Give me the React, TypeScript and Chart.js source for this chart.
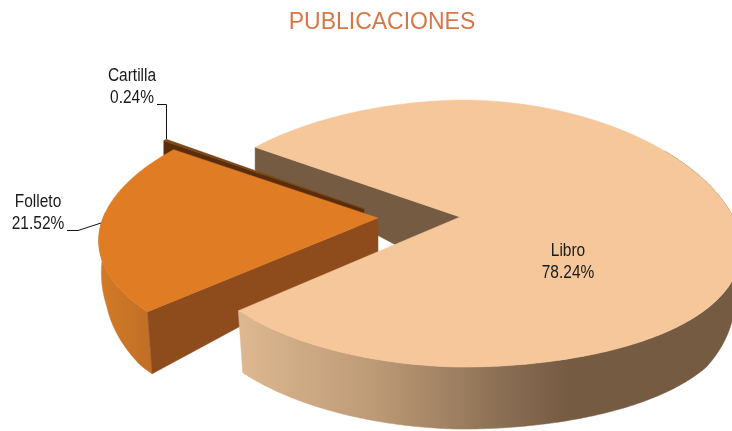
import React, { useEffect, useRef } from "react";
import { Chart, registerables } from "chart.js";

Chart.register(...registerables);

const categories = ["Libro", "Folleto", "Cartilla"];
const percentages = [78.24, 21.52, 0.24];
const percentLabels = ["78.24%", "21.52%", "0.24%"];
const titleText = "PUBLICACIONES";

const topColors = ["#F5C79B", "#E07D24", "#7D4514"];
const cutColors = ["#755B42", "#8E4C1C", "#5A2D0A"];
const apexes = [
  { x: 460, y: 217 },
  { x: 378, y: 218 },
  { x: 364, y: 209 },
];
const apexDepths = [62, 34, 20];
const leftPerspective = [0.133, 0.175, 0.2];
const sliceRadii = [273, 275, 273];
const labelAnchors = [
  { x: 568, y: 251 },
  { x: 38, y: 202 },
  { x: 132, y: 76 },
];
const LINE_H = 22;
const ROTATION = 306;
const RY = 131.5;
const K = 0.124;
const RIGHT_PERSPECTIVE = 0.237;
const LEFT_FLATTEN = 0.04;
const SHRINK = 0.02;
const FONT = '17.5px "Liberation Sans", sans-serif';
const NARROW = 0.885;

function depthAt(v: number) {
  return v >= 0 ? Math.min(62, 36 + 42 * v) : 36 + 22 * v;
}
function project(i: number, a: number, z: number) {
  const apex = apexes[i];
  const u = Math.cos(a);
  const v = Math.sin(a);
  const kx = u > 0 ? RIGHT_PERSPECTIVE : leftPerspective[i];
  const flat = 1 - LEFT_FLATTEN * Math.max(0, -u);
  const shrink = SHRINK * Math.min(1, Math.max(0, v) / 0.3);
  return {
    x: apex.x + (u * sliceRadii[i] * (1 - shrink * z)) / (1 - kx * v),
    y: apex.y + ((v * RY) / (1 - K * v)) * flat + z * depthAt(v),
  };
}
function arcPoints(i: number, a0: number, a1: number, z: number) {
  const n = Math.max(2, Math.ceil(Math.abs(a1 - a0) / 0.01));
  const pts = [];
  for (let j = 0; j <= n; j++) pts.push(project(i, a0 + ((a1 - a0) * j) / n, z));
  return pts;
}
function fillPoly(ctx: CanvasRenderingContext2D, pts: { x: number; y: number }[], fill: any) {
  ctx.beginPath();
  pts.forEach((p, i) => (i ? ctx.lineTo(p.x, p.y) : ctx.moveTo(p.x, p.y)));
  ctx.closePath();
  ctx.fillStyle = fill;
  ctx.fill();
  ctx.strokeStyle = fill;
  ctx.lineWidth = 0.5;
  ctx.stroke();
}

const rad = (d: number) => (d * Math.PI) / 180;

const pie3d = {
  id: "pie3d",
  beforeDatasetsDraw(chart: any) {
    const ctx: CanvasRenderingContext2D = chart.ctx;
    const arcs = chart.getDatasetMeta(0).data;
    const drawCut = (i: number) => {
      const a = arcs[i].startAngle;
      const apex = apexes[i];
      fillPoly(ctx, [apex, project(i, a, 0), project(i, a, 1), { x: apex.x, y: apex.y + apexDepths[i] }], cutColors[i]);
    };
    const drawTop = (i: number) => {
      const { startAngle, endAngle } = arcs[i];
      fillPoly(ctx, [apexes[i], ...arcPoints(i, startAngle, endAngle, 0)], topColors[i]);
    };
    const drawSide = (i: number, a0: number, a1: number, fill: any) => {
      fillPoly(ctx, [...arcPoints(i, a0, a1, 0), ...arcPoints(i, a1, a0, 1)], fill);
    };

    drawCut(0);
    drawCut(2);
    drawTop(2);
    const folGrad = ctx.createLinearGradient(100, 0, 152, 0);
    folGrad.addColorStop(0, "#D27A26");
    folGrad.addColorStop(1, "#C06E27");
    drawSide(1, arcs[1].startAngle, arcs[1].startAngle + rad(45), folGrad);
    drawCut(1);
    drawTop(1);
    const libGrad = ctx.createLinearGradient(238, 0, 570, 0);
    libGrad.addColorStop(0, "#DDB890");
    libGrad.addColorStop(0.4, "#BE9B77");
    libGrad.addColorStop(0.85, "#84694F");
    libGrad.addColorStop(1, "#755B42");
    drawSide(0, arcs[0].endAngle, arcs[0].endAngle - rad(170), libGrad);
    drawTop(0);

    ctx.fillStyle = "#1A1A1A";
    ctx.font = FONT;
    ctx.textAlign = "center";
    ctx.textBaseline = "middle";
    categories.forEach((name, i) => {
      const { x, y } = labelAnchors[i];
      ctx.save();
      ctx.translate(x, y);
      ctx.scale(NARROW, 1);
      ctx.fillText(name, 0, 0);
      ctx.fillText(percentLabels[i], 0, LINE_H);
      ctx.restore();
    });
    ctx.strokeStyle = "#111111";
    ctx.lineWidth = 1;
    ctx.beginPath();
    ctx.moveTo(157, 104.5);
    ctx.lineTo(166.5, 104.5);
    ctx.lineTo(166.5, 139);
    ctx.moveTo(67, 230.5);
    ctx.lineTo(78, 230.5);
    ctx.lineTo(101, 223);
    ctx.stroke();
    return false;
  },
};

export default function App() {
  const ref = useRef<HTMLCanvasElement | null>(null);
  useEffect(() => {
    document.body.style.margin = "0";
    const chart = new Chart(ref.current as HTMLCanvasElement, {
      type: "pie",
      data: {
        labels: categories,
        datasets: [{ data: percentages, backgroundColor: topColors, borderWidth: 0 }],
      },
      options: {
        responsive: false,
        animation: false,
        rotation: ROTATION,
        layout: { padding: { left: 32 } },
        plugins: {
          legend: { display: false },
          tooltip: { enabled: false },
          title: {
            display: true,
            text: titleText,
            color: "#DA7646",
            font: { family: '"Liberation Sans", sans-serif', size: 23, weight: "normal" },
            padding: { top: 9, bottom: 6 },
          },
        },
      },
      plugins: [pie3d],
    } as any);
    return () => chart.destroy();
  }, []);
  return <canvas ref={ref} width={732} height={431} style={{ display: "block", background: "#fff" }} />;
}
